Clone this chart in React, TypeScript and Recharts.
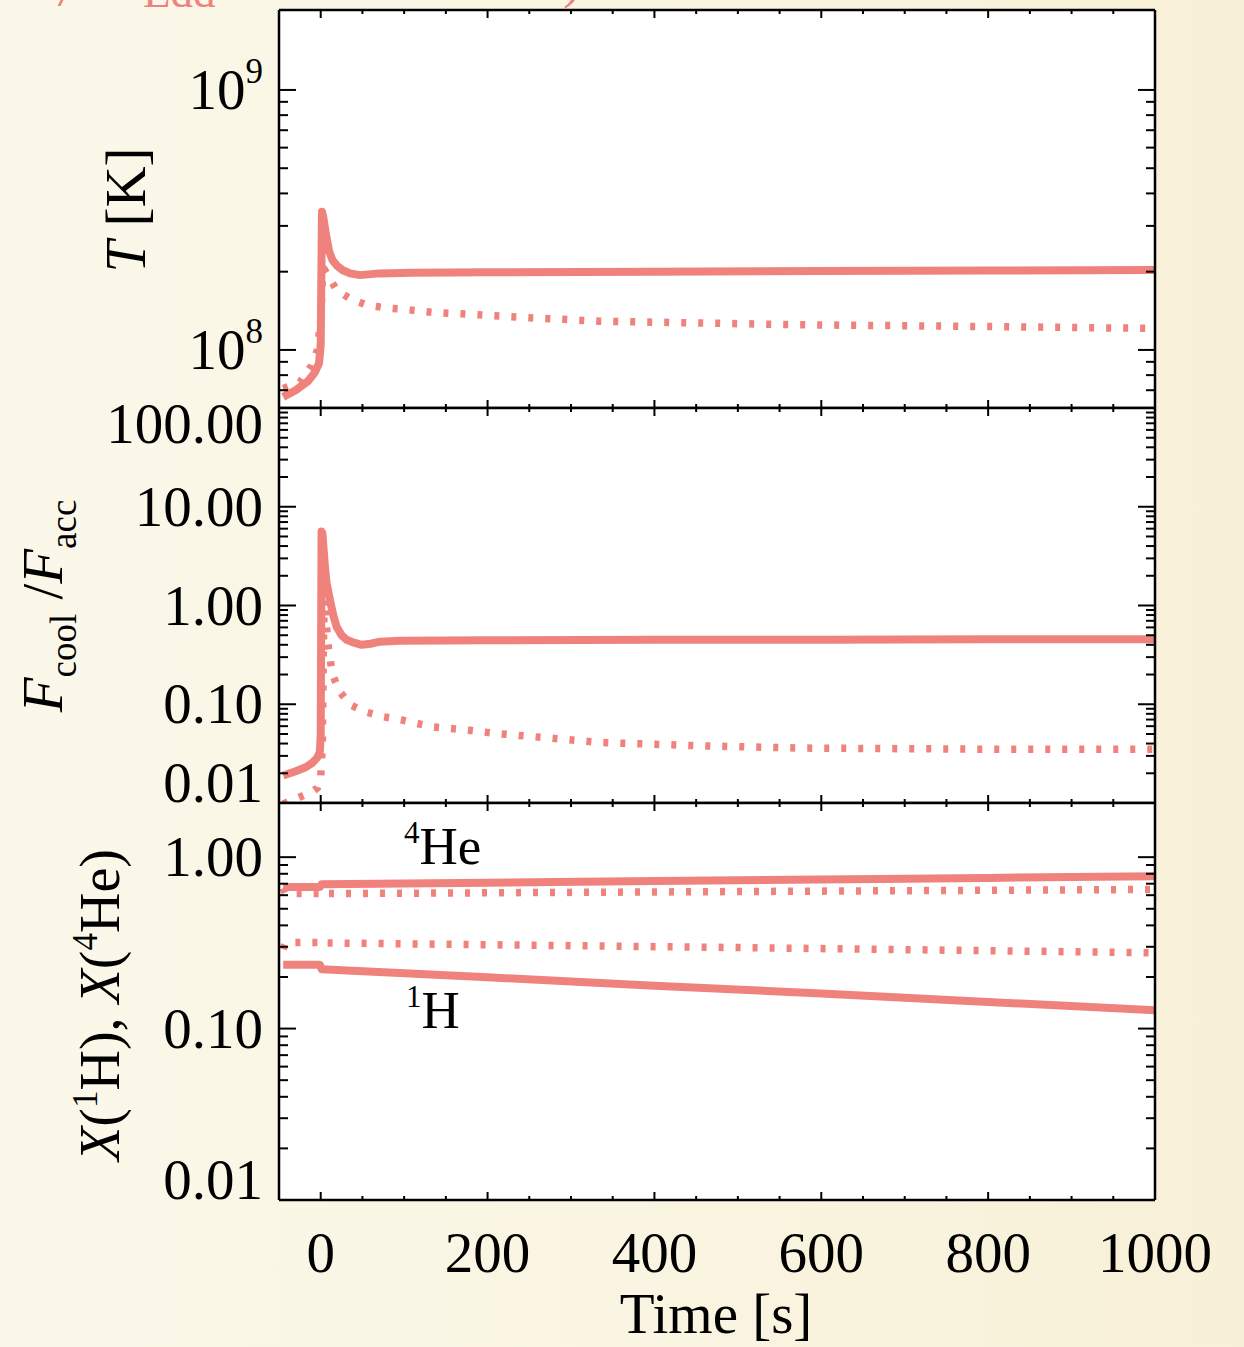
import React from 'react';
import { LineChart, Line, XAxis, YAxis, CartesianGrid } from 'recharts';

const SALMON = '#F0827D';
const FONT = '"Liberation Serif", "Times New Roman", serif';

// ---------- Panel 1: temperature ----------
const tSolidTime = [-45, -30, -15, -7, -2, 0, 0.8, 1.5, 3, 7, 10, 14, 20, 26, 35, 47, 70, 110, 200, 400, 600, 800, 1000];
const tSolidK = [6.6e7, 7.0e7, 7.6e7, 8.2e7, 8.9e7, 1.05e8, 2.0e8, 3.4e8, 3.25e8, 2.7e8, 2.4e8, 2.22e8, 2.1e8, 2.03e8, 1.97e8, 1.94e8, 1.97e8, 1.98e8, 1.99e8, 2.0e8, 2.01e8, 2.02e8, 2.03e8];
const tDotTime = [-45, -25, -11, -4, 0, 2, 4, 6, 9, 19, 36, 55, 79, 103, 139, 181, 250, 335, 450, 574, 800, 1000];
const tDotK = [7.1e7, 7.5e7, 8.7e7, 1.0e8, 1.3e8, 1.9e8, 2.05e8, 2.0e8, 1.93e8, 1.7e8, 1.57e8, 1.49e8, 1.45e8, 1.43e8, 1.39e8, 1.37e8, 1.33e8, 1.29e8, 1.27e8, 1.25e8, 1.23e8, 1.21e8];

// ---------- Panel 2: F_cool / F_acc ----------
const fSolidTime = [-45, -30, -18, -10, -4, -1, 0, 0.5, 1, 2, 5, 7, 11, 15, 19, 25, 31, 40, 49, 60, 71, 95, 200, 400, 600, 800, 1000];
const fSolidVal = [0.019, 0.021, 0.023, 0.0255, 0.029, 0.033, 0.05, 0.5, 5.6, 5.4, 2.5, 1.7, 1.15, 0.8, 0.61, 0.5, 0.45, 0.42, 0.4, 0.41, 0.43, 0.44, 0.445, 0.45, 0.45, 0.455, 0.455];
const fDotTime = [-45, -25, -10, -4, 0, 2, 3, 4, 5, 8, 11, 14, 23, 35, 53, 74, 95, 134, 175, 206, 335, 454, 574, 814, 1000];
const fDotVal = [0.0098, 0.0115, 0.013, 0.0142, 0.018, 0.04, 0.3, 0.9, 1.15, 0.45, 0.3, 0.2, 0.134, 0.099, 0.084, 0.075, 0.07, 0.059, 0.055, 0.051, 0.041, 0.038, 0.036, 0.035, 0.035];

// ---------- Panel 3: mass fractions ----------
const heSolidTime = [-45, -1, 1, 200, 400, 600, 800, 1000];
const heSolidVal = [0.67, 0.67, 0.695, 0.71, 0.725, 0.74, 0.757, 0.775];
const heDotTime = [-45, -42, 0, 1, 3, 500, 995, 1000];
const heDotVal = [0.66, 0.613, 0.613, 0.6, 0.613, 0.63, 0.648, 0.62];
const hDotTime = [-45, -42, 0, 1, 3, 500, 995, 1000];
const hDotVal = [0.29, 0.318, 0.318, 0.31, 0.316, 0.297, 0.277, 0.277];
const hSolidTime = [-45, -1, 1, 200, 400, 600, 800, 1000];
const hSolidVal = [0.236, 0.236, 0.222, 0.199, 0.178, 0.16, 0.143, 0.128];

// ---------- Axes ----------
const X_DOMAIN: [number, number] = [-50, 1000];
const xTicks = [0, 50, 100, 150, 200, 250, 300, 350, 400, 450, 500, 550, 600, 650, 700, 750, 800, 850, 900, 950, 1000];
const xMajor = [0, 200, 400, 600, 800, 1000];

const T_DOMAIN: [number, number] = [5.98e7, 2.03e9];
const F_DOMAIN: [number, number] = [0.01, 100];
const X_FRAC_DOMAIN: [number, number] = [0.01, 2.07];

function logTicks(minExp: number, maxExp: number, lo: number, hi: number) {
  const out: number[] = [];
  for (let d = minExp; d <= maxExp; d++) {
    for (let m = 1; m <= 9; m++) {
      const v = Number((m * Math.pow(10, d)).toPrecision(3));
      if (v >= lo * 0.9999 && v <= hi * 1.0001) out.push(v);
    }
  }
  return out;
}
const tTicks = logTicks(7, 9, 6.5e7, 1.5e9);
const fTicks = logTicks(-2, 2, 0.01, 100);
const xfTicks = logTicks(-2, 0, 0.01, 1.5);

const zip = (ts: number[], vs: number[]) => ts.map((t, i) => ({ t, v: vs[i] }));

const isMajorLog = (v: number) => Math.abs(Math.log10(v) - Math.round(Math.log10(v))) < 1e-6;

type LabelKind = 'pow' | 'fixed';

const TICK_FONT = 57;

function LeftTick(props: any) {
  const { x, y, payload, kind, domain } = props;
  const v = payload.value as number;
  const major = isMajorLog(v);
  const len = major ? 17 : 9;
  let label: React.ReactNode = null;
  if (major) {
    const atTop = Math.abs(v - domain[1]) / domain[1] < 1e-4;
    const atBot = Math.abs(v - domain[0]) / domain[0] < 1e-4;
    const by = atTop ? y + 35 : atBot ? y - 1 : y + 19;
    if (kind === 'pow') {
      label = (
        <text x={x - 16} y={by} textAnchor="end" fontSize={TICK_FONT} fontFamily={FONT} fill="#000">
          10<tspan fontSize={35} dy={-26}>{Math.round(Math.log10(v))}</tspan>
        </text>
      );
    } else {
      label = (
        <text x={x - 16} y={by} textAnchor="end" fontSize={TICK_FONT} fontFamily={FONT} fill="#000">
          {v.toFixed(2)}
        </text>
      );
    }
  }
  return (
    <g>
      <line x1={x} y1={y} x2={x + len} y2={y} stroke="#000" strokeWidth={2} />
      {label}
    </g>
  );
}

function RightTick(props: any) {
  const { x, y, payload } = props;
  const v = payload.value as number;
  const len = isMajorLog(v) ? 17 : 9;
  return <line x1={x} y1={y} x2={x - len} y2={y} stroke="#000" strokeWidth={2} />;
}

function BottomTick(props: any) {
  const { x, y, payload, showLabel } = props;
  const v = payload.value as number;
  const major = xMajor.includes(v);
  const len = major ? 8 : 4;
  return (
    <g>
      <line x1={x} y1={y} x2={x} y2={y - len} stroke="#000" strokeWidth={2} />
      {showLabel && major ? (
        <text x={x} y={y + 72} textAnchor="middle" fontSize={TICK_FONT} fontFamily={FONT} fill="#000">
          {v}
        </text>
      ) : null}
    </g>
  );
}

function TopTick(props: any) {
  const { x, y, payload } = props;
  const len = xMajor.includes(payload.value) ? 8 : 4;
  return <line x1={x} y1={y} x2={x} y2={y + len} stroke="#000" strokeWidth={2} />;
}

type Series = { name: string; data: { t: number; v: number }[]; dotted: boolean };

type PanelProps = {
  top: number;
  bottom: number;
  domain: [number, number];
  ticks: number[];
  kind: LabelKind;
  showX: boolean;
  series: Series[];
};

const AXIS_LINE = { stroke: '#000', strokeWidth: 2.5 };

function Panel({ top, bottom, domain, ticks, kind, showX, series }: PanelProps) {
  const topH = 24;
  const botH = showX ? 147 : 10;
  const plotH = bottom - top;
  return (
    <div style={{ position: 'absolute', left: 0, top: top - topH }}>
      <LineChart width={1244} height={plotH + topH + botH} margin={{ top: 0, right: 0, bottom: 0, left: 0 }}>
        <CartesianGrid xAxisId="bottom" yAxisId="left" horizontal={false} vertical={false} fill="#ffffff" />
        {series.map((s) => (
          <Line
            key={s.name}
            name={s.name}
            data={s.data}
            dataKey="v"
            xAxisId={s.dotted ? 'top' : 'bottom'}
            yAxisId={s.dotted ? 'right' : 'left'}
            type="linear"
            stroke={SALMON}
            strokeWidth={s.dotted ? 7.5 : 8}
            strokeDasharray={s.dotted ? '5 12' : undefined}
            strokeLinejoin="round"
            dot={false}
            activeDot={false}
            isAnimationActive={false}
          />
        ))}
        <XAxis
          xAxisId="bottom"
          orientation="bottom"
          dataKey="t"
          type="number"
          domain={X_DOMAIN}
          allowDataOverflow
          ticks={xTicks}
          interval={0}
          height={botH}
          tickSize={0}
          tickMargin={0}
          tickLine={false}
          axisLine={AXIS_LINE}
          tick={(p: any) => <BottomTick {...p} showLabel={showX} />}
        />
        <XAxis
          xAxisId="top"
          orientation="top"
          dataKey="t"
          type="number"
          domain={X_DOMAIN}
          allowDataOverflow
          ticks={xTicks}
          interval={0}
          height={topH}
          tickSize={0}
          tickMargin={0}
          tickLine={false}
          axisLine={AXIS_LINE}
          tick={(p: any) => <TopTick {...p} />}
        />
        <YAxis
          yAxisId="left"
          orientation="left"
          type="number"
          scale="log"
          domain={domain}
          allowDataOverflow
          ticks={ticks}
          interval={0}
          width={279}
          tickSize={0}
          tickMargin={0}
          tickLine={false}
          axisLine={AXIS_LINE}
          tick={(p: any) => <LeftTick {...p} kind={kind} domain={domain} />}
        />
        <YAxis
          yAxisId="right"
          orientation="right"
          type="number"
          scale="log"
          domain={domain}
          allowDataOverflow
          ticks={ticks}
          interval={0}
          width={89}
          tickSize={0}
          tickMargin={0}
          tickLine={false}
          axisLine={AXIS_LINE}
          tick={(p: any) => <RightTick {...p} />}
        />
      </LineChart>
    </div>
  );
}

export default function App() {
  return (
    <div
      style={{
        position: 'absolute',
        left: 0,
        top: 0,
        width: 1244,
        height: 1347,
        overflow: 'hidden',
        background: 'linear-gradient(90deg, #fbf8ea 0%, #faf5e2 50%, #f8f0d7 100%)',
        fontFamily: FONT,
      }}
    >
      <Panel
        top={10}
        bottom={408}
        domain={T_DOMAIN}
        ticks={tTicks}
        kind="pow"
        showX={false}
        series={[
          { name: 'T solid', data: zip(tSolidTime, tSolidK), dotted: false },
          { name: 'T dotted', data: zip(tDotTime, tDotK), dotted: true },
        ]}
      />
      <Panel
        top={408}
        bottom={803}
        domain={F_DOMAIN}
        ticks={fTicks}
        kind="fixed"
        showX={false}
        series={[
          { name: 'F solid', data: zip(fSolidTime, fSolidVal), dotted: false },
          { name: 'F dotted', data: zip(fDotTime, fDotVal), dotted: true },
        ]}
      />
      <Panel
        top={803}
        bottom={1200}
        domain={X_FRAC_DOMAIN}
        ticks={xfTicks}
        kind="fixed"
        showX={true}
        series={[
          { name: 'He solid', data: zip(heSolidTime, heSolidVal), dotted: false },
          { name: 'He dotted', data: zip(heDotTime, heDotVal), dotted: true },
          { name: 'H dotted', data: zip(hDotTime, hDotVal), dotted: true },
          { name: 'H solid', data: zip(hSolidTime, hSolidVal), dotted: false },
        ]}
      />
      <svg
        width={1244}
        height={1347}
        style={{ position: 'absolute', left: 0, top: 0, pointerEvents: 'none' }}
        fontFamily={FONT}
      >
        {/* clipped title remnants at top */}
        <text x={60} y={5} fontSize={55} fontStyle="italic" fill={SALMON}>/</text>
        <text x={143} y={7} fontSize={45} fill={SALMON}>Edd</text>
        <text x={563} y={-3} fontSize={55} fill={SALMON}>)</text>

        {/* y titles */}
        <text transform="translate(145,210) rotate(-90)" textAnchor="middle" fontSize={57} fill="#000">
          <tspan fontStyle="italic">T</tspan> [K]
        </text>
        <text transform="translate(62,606) rotate(-90)" textAnchor="middle" fontSize={57} fill="#000">
          <tspan fontStyle="italic">F</tspan>
          <tspan fontSize={37} dy={14}>cool</tspan>
          <tspan dy={-14}> /</tspan>
          <tspan fontStyle="italic">F</tspan>
          <tspan fontSize={37} dy={14}>acc</tspan>
        </text>
        <text transform="translate(119,1005) rotate(-90)" textAnchor="middle" fontSize={56} fill="#000">
          <tspan fontStyle="italic">X</tspan>(<tspan fontSize={35} dy={-22}>1</tspan>
          <tspan dy={22}>H), </tspan>
          <tspan fontStyle="italic">X</tspan>(<tspan fontSize={35} dy={-22}>4</tspan>
          <tspan dy={22}>He)</tspan>
        </text>

        {/* species labels */}
        <text x={404} y={864} fontSize={53} fill="#000">
          <tspan fontSize={31} dy={-21}>4</tspan>
          <tspan dy={21}>He</tspan>
        </text>
        <text x={406} y={1028} fontSize={53} fill="#000">
          <tspan fontSize={31} dy={-21}>1</tspan>
          <tspan dy={21}>H</tspan>
        </text>

        {/* x title */}
        <text x={716} y={1333} textAnchor="middle" fontSize={57} fill="#000">Time [s]</text>
      </svg>
    </div>
  );
}
